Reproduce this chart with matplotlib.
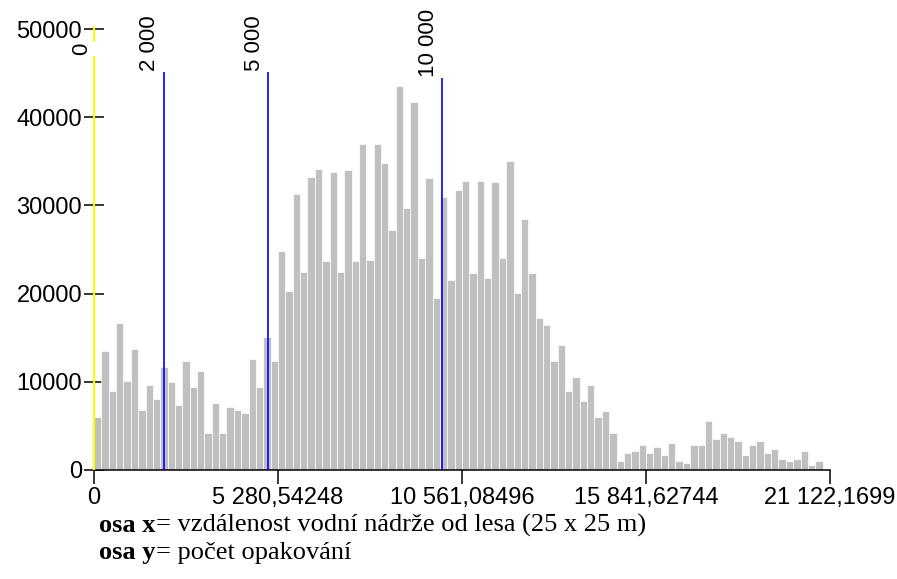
import numpy as np
import matplotlib
matplotlib.use('Agg')
from matplotlib import pyplot as plt

plt.rcParams['font.family'] = ['Liberation Sans', 'DejaVu Sans']

# histogram of distance (100 equal bins from 0 to max)
x_max = 21122.1699
counts = [
    6040, 13530, 9000, 16700, 10120, 13750, 6770, 9670, 8080, 11710,
    9980, 7400, 12390, 9440, 11260, 4200, 7630, 4200, 7180, 6800,
    6500, 12620, 9450, 15110, 12390, 24870, 20330, 31260, 22410, 33260,
    34160, 23730, 33750, 22410, 33980, 23730, 36930, 23810, 36930, 34840,
    27200, 43540, 29670, 41690, 24000, 33070, 19450, 30990, 21500, 31690,
    32820, 22370, 32820, 21750, 32600, 23980, 35090, 20120, 28510, 22390,
    17180, 16490, 12390, 14210, 8990, 10580, 7860, 9670, 6040, 6720,
    4230, 1050, 1960, 2190, 2870, 1960, 2640, 1730, 3100, 1050,
    830, 2870, 2870, 5590, 3550, 4230, 3780, 3320, 1730, 2870,
    3320, 1960, 2420, 1280, 1050, 1280, 2190, 600, 1050, 150,
]

x_ticks = [0, 5280.54248, 10561.08496, 15841.62744, 21122.1699]
x_tick_labels = ['0', '5 280,54248', '10 561,08496', '15 841,62744', '21 122,1699']
y_ticks = [0, 10000, 20000, 30000, 40000, 50000]

marker_values = [2000, 5000, 10000]
marker_labels = ['2 000', '5 000', '10 000']
marker_tops = [45100, 45100, 44400]

fig = plt.figure(figsize=(8.97, 5.79), dpi=100)
ax = fig.add_axes([94/897, 109/579, 736/897, 441/579])

edges = np.linspace(0, x_max, len(counts) + 1)
ax.bar(edges[:-1], counts, width=np.diff(edges), align='edge',
       color='#c0c0c0', edgecolor='white', linewidth=0.5, zorder=2)

ax.set_xlim(0, x_max)
ax.set_ylim(0, 50000)

for s in ['top', 'right', 'left']:
    ax.spines[s].set_visible(False)
ax.spines['bottom'].set_linewidth(1.1)

ax.set_xticks(x_ticks)
ax.set_xticklabels(x_tick_labels)
ax.set_yticks(y_ticks)
ax.set_yticklabels([str(v) for v in y_ticks])
ax.tick_params(axis='x', direction='out', length=10, width=1.1, pad=2, labelsize=17)
ax.tick_params(axis='y', direction='inout', length=15, width=1.1, pad=1, labelsize=17)

# zero line (broken where its label sits) + distance markers
ax.vlines([0, 0], [0, 48500], [46900, 50300], colors='#ffff00', linewidth=1.5,
          clip_on=False, zorder=3)
ax.annotate('0', xy=(0, 47000), xytext=(-9, 0), textcoords='offset points',
            rotation=90, ha='center', va='bottom', fontsize=16, zorder=5,
            annotation_clip=False)

ax.vlines(marker_values, 0, marker_tops, colors='#0000ff', linewidth=1.2, zorder=3)
for v, lab, top in zip(marker_values, marker_labels, marker_tops):
    ax.annotate(lab, xy=(v, top), xytext=(-10, 1), textcoords='offset points',
                rotation=90, ha='center', va='bottom', fontsize=16,
                annotation_clip=False)

# caption under the chart
serif = ['Liberation Serif', 'DejaVu Serif']
fs = 19
t1 = fig.text(99/897, 1 - 532/579, 'osa x', family=serif, fontweight='bold',
              fontsize=fs, va='baseline')
ax.annotate('= vzdálenost vodní nádrže od lesa (25 x 25 m)', xy=(1, 0), xycoords=t1,
            va='bottom', ha='left', family=serif, fontsize=fs, annotation_clip=False)
t2 = fig.text(99/897, 1 - 559/579, 'osa y', family=serif, fontweight='bold',
              fontsize=fs, va='baseline')
ax.annotate('= počet opakování', xy=(1, 0), xycoords=t2,
            va='bottom', ha='left', family=serif, fontsize=fs, annotation_clip=False)

plt.savefig('out.png', dpi=100)
